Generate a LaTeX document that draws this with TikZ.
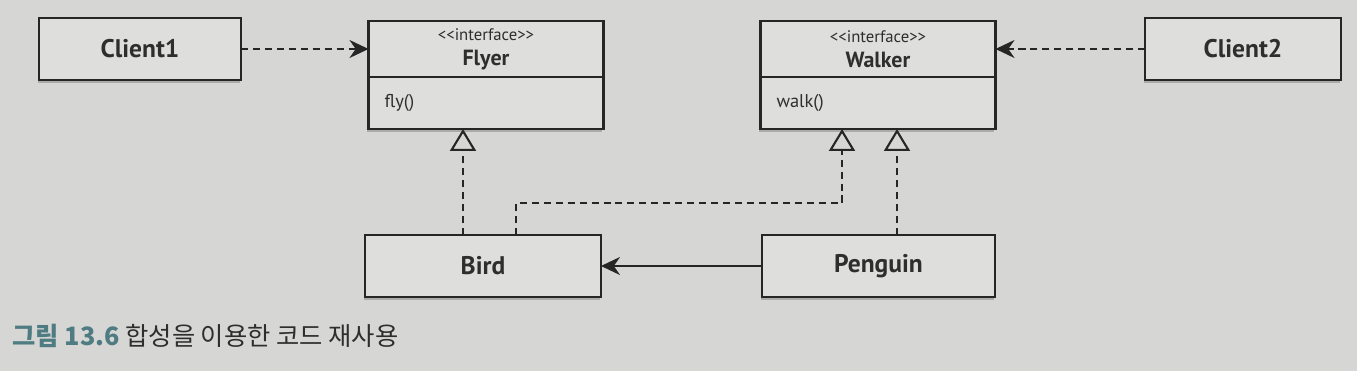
\documentclass[tikz,border=0pt]{standalone}
\usepackage{fontspec}
\setmainfont{PT Sans}
\newfontfamily\krfont{Noto Sans CJK KR}
\usetikzlibrary{arrows.meta,positioning,shadows}
\definecolor{umlpaper}{HTML}{D6D6D4}
\definecolor{umlfill}{HTML}{DEDEDC}
\definecolor{umlline}{HTML}{262626}
\definecolor{umlteal}{HTML}{4F7C82}
\definecolor{umltext}{HTML}{2E2E2E}
\tikzset{
  box/.style={draw=umlline,fill=umlfill,line width=1.5pt,outer sep=0pt,inner sep=0pt,align=center,text=umltext,
    drop shadow={shadow xshift=-0.6pt,shadow yshift=-1.5pt,opacity=0.5}},
  plain/.style={box,font=\fontsize{14.5}{16}\selectfont\bfseries,minimum height=12.4mm},
  head/.style={box,minimum width=47mm,minimum height=11.2mm,font=\fontsize{9.5}{14.2}\selectfont},
  body/.style={box,minimum width=47mm,minimum height=10.4mm,text width=40.6mm,align=left,font=\fontsize{10.5}{12}\selectfont},
  dep/.style={-{Stealth[length=3.8mm,width=3.6mm]},draw=umlline,line width=1.2pt,dash pattern=on 4pt off 2.8pt},
  real/.style={-{Triangle[open,length=4.4mm,width=5.2mm,line width=1.2pt]},draw=umlline,line width=1.2pt,dash pattern=on 4pt off 2.8pt},
  use/.style={dep,solid},
}

\begin{document}
\begin{tikzpicture}
  \fill[umlpaper] (0,0) rectangle (27.14,7.42);
  \useasboundingbox (0,0) rectangle (27.14,7.42);
  % clients and the two interfaces
  \node[plain,minimum width=40.4mm] (client1) at (2.80,6.44) {Client1};
  \node[head] (flyerhead) at (9.72,6.44) {<{}<interface>{}>\\{\fontsize{12.5}{14.2}\selectfont\bfseries Flyer}};
  \node[body,below=0pt of flyerhead] (flyer) {fly()};
  \node[head] (walkerhead) at (17.56,6.44) {<{}<interface>{}>\\{\fontsize{12.5}{14.2}\selectfont\bfseries Walker}};
  \node[body,below=0pt of walkerhead] (walker) {walk()};
  \node[plain,minimum width=39.2mm] (client2) at (24.86,6.44) {Client2};
  % implementations
  \node[plain,minimum width=47.2mm] (bird) at (9.66,2.10) {Bird};
  \node[plain,minimum width=46.6mm] (penguin) at (17.57,2.10) {Penguin};
  \coordinate (bend) at (16.84,3.36);

  \draw[dep] (client1) -- (flyerhead);
  \draw[dep] (client2) -- (walkerhead);
  \draw[use] (penguin) -- (bird);
  \draw[real] ([xshift=-4mm]bird.north) -- ([xshift=-4mm]bird.north |- flyer.south);
  \draw[real] ([xshift=6.6mm]bird.north) |- (bend) -- (bend |- walker.south);
  \draw[real] ([xshift=3.7mm]penguin.north) -- ([xshift=3.7mm]penguin.north |- walker.south);

  \node[anchor=base west,inner sep=0pt,text=umltext,font=\krfont\fontsize{14.4}{16}\selectfont] (caption) at (0.24,0.52) {{\bfseries\color{umlteal}그림 13.6} 합성을 이용한 코드 재사용};
\end{tikzpicture}
\end{document}
